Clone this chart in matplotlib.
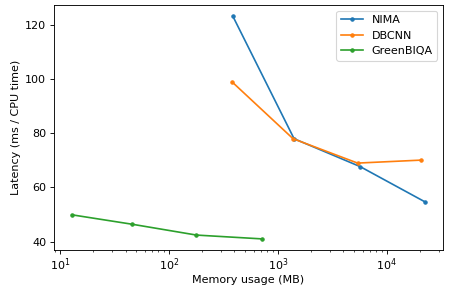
import matplotlib
matplotlib.use("Agg")
import matplotlib.pyplot as plt

nima_mem = [386, 1410, 5700, 22600]
nima_lat = [123.3, 78.0, 67.7, 54.6]
dbcnn_mem = [380, 1380, 5400, 20700]
dbcnn_lat = [99.0, 78.0, 69.0, 70.1]
green_mem = [12.8, 46, 179, 708]
green_lat = [49.9, 46.4, 42.4, 41.0]

fig = plt.figure(figsize=(450/80, 290/80), dpi=80)
ax = fig.add_axes([54/450, 40/290, 389/450, 245/290])
ax.plot(nima_mem, nima_lat, marker='.', label='NIMA')
ax.plot(dbcnn_mem, dbcnn_lat, marker='.', label='DBCNN')
ax.plot(green_mem, green_lat, marker='.', label='GreenBIQA')
ax.set_xscale('log')
ax.set_xlabel('Memory usage (MB)', labelpad=2)
ax.set_ylabel('Latency (ms / CPU time)')
ax.set_yticks([40, 60, 80, 100, 120])
ax.tick_params(axis='x', which='major', pad=2)
ax.legend(loc='upper right')
fig.savefig('out.png', dpi=80)
